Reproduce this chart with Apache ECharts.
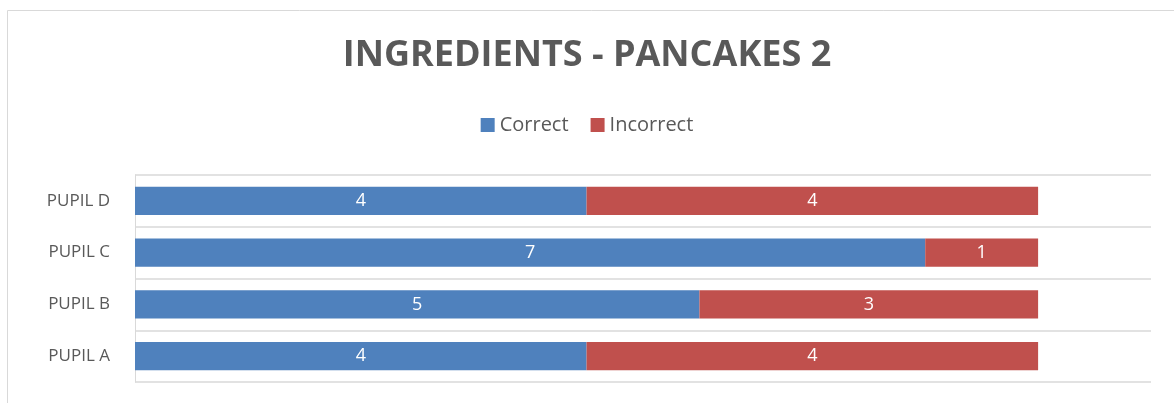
<!DOCTYPE html>
<html>
<head>
<meta charset="utf-8">
<script src="https://cdn.jsdelivr.net/npm/echarts@6/dist/echarts.min.js"></script>
<style>
  html, body { margin: 0; padding: 0; background: #fff; }
  #chart { width: 1174px; height: 403px; }
</style>
</head>
<body>
<div id="chart"></div>
<script>
  const pupils = ['PUPIL A', 'PUPIL B', 'PUPIL C', 'PUPIL D']
  const correct = [4, 5, 7, 4]
  const incorrect = [4, 3, 1, 4]

  const chart = echarts.init(document.getElementById('chart'))
  chart.setOption({
    animation: false,
    graphic: [{
      type: 'rect',
      shape: { x: 7.5, y: 10.5, width: 1200, height: 420 },
      style: { fill: 'none', stroke: '#d9d9d9', lineWidth: 1 },
      silent: true
    }],
    title: {
      text: 'INGREDIENTS - PANCAKES 2',
      left: 'center',
      top: 33,
      textStyle: {
        color: '#595959',
        fontFamily: 'Open Sans',
        fontWeight: 'bold',
        fontSize: 36
      }
    },
    legend: {
      top: 110,
      left: 'center',
      itemWidth: 14,
      itemHeight: 14,
      itemGap: 22,
      icon: 'rect',
      textStyle: {
        color: '#595959',
        fontFamily: 'Open Sans',
        fontSize: 20
      },
      data: ['Correct', 'Incorrect']
    },
    grid: {
      left: 135,
      right: 23,
      top: 175,
      bottom: 21
    },
    xAxis: {
      type: 'value',
      min: 0,
      max: 9,
      axisLabel: { show: false },
      axisLine: { show: false },
      axisTick: { show: false },
      splitLine: { show: false }
    },
    yAxis: {
      type: 'category',
      data: pupils,
      axisLine: { show: true, lineStyle: { color: '#d9d9d9', width: 1 } },
      axisTick: { show: false },
      splitLine: { show: true, lineStyle: { color: '#d9d9d9', width: 1.5 } },
      axisLabel: {
        color: '#595959',
        fontFamily: 'Open Sans',
        fontSize: 17,
        margin: 25
      }
    },
    series: [
      {
        name: 'Correct',
        type: 'bar',
        stack: 'total',
        barWidth: '55%',
        data: correct,
        itemStyle: { color: '#4F81BD' },
        label: {
          show: true,
          position: 'inside',
          color: '#fff',
          fontFamily: 'Open Sans',
          fontSize: 18
        }
      },
      {
        name: 'Incorrect',
        type: 'bar',
        stack: 'total',
        data: incorrect,
        itemStyle: { color: '#C0504D' },
        label: {
          show: true,
          position: 'inside',
          color: '#fff',
          fontFamily: 'Open Sans',
          fontSize: 18
        }
      }
    ]
  })
</script>
</body>
</html>
